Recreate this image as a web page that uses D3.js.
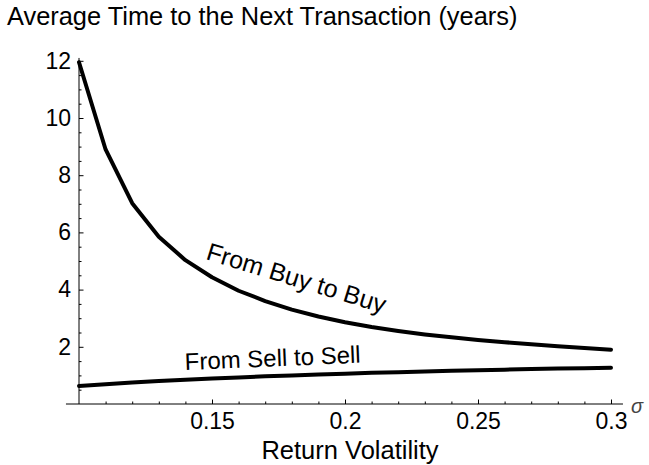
<!DOCTYPE html>
<html>
<head>
<meta charset="utf-8">
<script src="https://cdn.jsdelivr.net/npm/d3@7"></script>
<style>
  body { margin: 0; background: #fff; }
  svg { display: block; font-family: "Liberation Sans", Arial, sans-serif; }
</style>
</head>
<body>
<svg width="649" height="465"></svg>
<script>
// return volatility (sigma) sample points
const sigma = [0.10, 0.11, 0.12, 0.13, 0.14, 0.15, 0.16, 0.17, 0.18, 0.19, 0.20,
  0.21, 0.22, 0.23, 0.24, 0.25, 0.26, 0.27, 0.28, 0.29, 0.30];
// average time to next transaction (years)
const buyToBuy = [11.95, 8.9, 7.02, 5.85, 5.03, 4.43, 3.96, 3.6, 3.3, 3.06, 2.86,
  2.69, 2.55, 2.43, 2.33, 2.24, 2.16, 2.09, 2.02, 1.96, 1.9];
const sellToSell = [0.63, 0.69, 0.75, 0.8, 0.85, 0.89, 0.93, 0.97, 1.0, 1.03, 1.06,
  1.09, 1.11, 1.14, 1.16, 1.18, 1.2, 1.22, 1.24, 1.25, 1.27];
const xTicks = [0.15, 0.2, 0.25, 0.3];
const yTicks = [2, 4, 6, 8, 10, 12];

const svg = d3.select('svg');

const x = d3.scaleLinear()
  .domain([0.1, 0.3])
  .range([79, 611]);

const y = d3.scaleLinear()
  .domain([0, 12])
  .range([404, 60.8]);

// axis lines (Mathematica style, crossing at plot origin)
svg.append('line')
  .attr('x1', x(0.0951)).attr('x2', x(0.3045))
  .attr('y1', y(0)).attr('y2', y(0))
  .attr('stroke', '#000').attr('stroke-width', 1);
svg.append('line')
  .attr('x1', x(0.1)).attr('x2', x(0.1))
  .attr('y1', y(0)).attr('y2', y(12.1))
  .attr('stroke', '#000').attr('stroke-width', 1);

// minor ticks
const xMinor = d3.range(11, 30).map(d => d / 100).filter(d => Math.round(d * 100) % 5 != 0);
const yMinor = d3.range(1, 24).map(d => d / 2).filter(d => d % 2 != 0);

svg.append('g')
  .attr('transform', `translate(0,${y(0)})`)
  .call(d3.axisBottom(x).tickValues(xMinor).tickSize(-2.5).tickFormat(''))
  .call(g => g.select('.domain').remove());

svg.append('g')
  .attr('transform', `translate(${x(0.1)},0)`)
  .call(d3.axisLeft(y).tickValues(yMinor).tickSize(-2.5).tickFormat(''))
  .call(g => g.select('.domain').remove());

// major ticks + labels
const xAxis = svg.append('g')
  .attr('transform', `translate(0,${y(0)})`)
  .call(d3.axisBottom(x).tickValues(xTicks).tickSize(-4.5).tickPadding(9)
    .tickFormat(d => String(+d.toFixed(2))))
  .call(g => g.select('.domain').remove());
xAxis.selectAll('text')
  .attr('font-size', 23)
  .attr('font-family', '"Liberation Sans", Arial, sans-serif')
  .attr('fill', '#000');

const yAxis = svg.append('g')
  .attr('transform', `translate(${x(0.1)},0)`)
  .call(d3.axisLeft(y).tickValues(yTicks).tickSize(-4.5).tickPadding(8))
  .call(g => g.select('.domain').remove());
yAxis.selectAll('text')
  .attr('font-size', 23)
  .attr('font-family', '"Liberation Sans", Arial, sans-serif')
  .attr('fill', '#000');

// curves
const line = d3.line()
  .x((d, i) => x(sigma[i]))
  .y(d => y(d));

svg.append('path')
  .datum(buyToBuy)
  .attr('d', line)
  .attr('fill', 'none')
  .attr('stroke', '#000')
  .attr('stroke-width', 4)
  .attr('stroke-linejoin', 'round')
  .attr('stroke-linecap', 'round');

svg.append('path')
  .datum(sellToSell)
  .attr('d', line)
  .attr('fill', 'none')
  .attr('stroke', '#000')
  .attr('stroke-width', 4)
  .attr('stroke-linejoin', 'round')
  .attr('stroke-linecap', 'round');

// curve labels
svg.append('text')
  .attr('transform', 'translate(205,259) rotate(17)')
  .attr('font-size', 25)
  .text('From Buy to Buy');

svg.append('text')
  .attr('transform', 'translate(185,370) rotate(-2.4)')
  .attr('font-size', 24)
  .text('From Sell to Sell');

// titles
svg.append('text')
  .attr('x', 7).attr('y', 25)
  .attr('font-size', 25.4)
  .text('Average Time to the Next Transaction (years)');

svg.append('text')
  .attr('x', 350).attr('y', 459)
  .attr('text-anchor', 'middle')
  .attr('font-size', 25.5)
  .text('Return Volatility');

svg.append('text')
  .attr('x', 631).attr('y', 413)
  .attr('font-size', 20)
  .attr('font-style', 'italic')
  .attr('fill', '#444')
  .text('σ');
</script>
</body>
</html>
